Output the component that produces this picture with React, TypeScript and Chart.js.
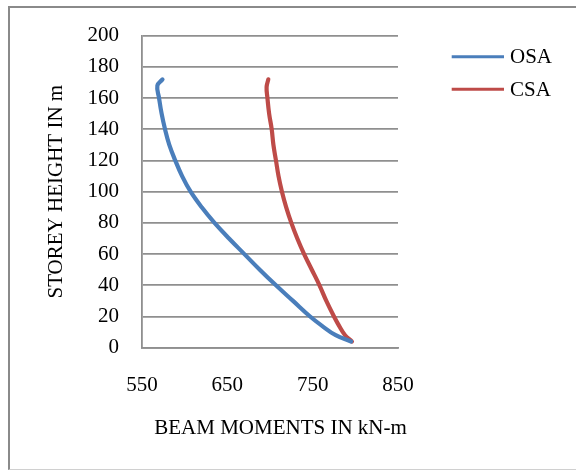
import React, { useEffect, useRef } from "react";
import { Chart, registerables } from "chart.js";

Chart.register(...registerables);

// ---- data ----
const seriesNames = ["OSA", "CSA"];
const seriesColors = ["#4A7EBB", "#BE4B48"];

const osaHeights = [4, 8, 14, 20, 30, 40, 50, 60, 70, 80, 90, 100, 110, 120, 130, 140, 150, 160, 168, 172];
const osaMoments = [795, 777, 761, 747, 727, 707, 688, 670, 652, 635, 620, 607, 597, 589, 582, 577, 573, 570, 568, 574];

const csaHeights = [4, 8, 14, 20, 30, 40, 50, 60, 70, 80, 90, 100, 110, 120, 130, 140, 150, 160, 167, 172];
const csaMoments = [796, 788, 781, 775, 766, 758, 749, 740, 732, 725, 719, 714, 710, 707, 704, 702, 699, 697, 696, 698];

const xTickValues = [550, 650, 750, 850];
const yTickValues = [0, 20, 40, 60, 80, 100, 120, 140, 160, 180, 200];

const xTitle = "BEAM MOMENTS IN kN-m";
const yTitle = "STOREY HEIGHT IN m";

const FONT = "'Liberation Serif', 'Times New Roman', serif";
const GRID = "#8f8f8f";

const extrasPlugin = {
  id: "extras",
  afterDraw(chart: any) {
    const { ctx, chartArea } = chart;
    ctx.save();
    ctx.font = `21px ${FONT}`;
    ctx.fillStyle = "#000";
    ctx.textBaseline = "middle";
    // legend
    chart.data.datasets.forEach((ds: any, i: number) => {
      const y = chartArea.top + 21 + i * 32.6;
      const x0 = chartArea.right + 53.7;
      const x1 = chartArea.right + 106;
      ctx.strokeStyle = ds.borderColor;
      ctx.lineWidth = 3;
      ctx.lineCap = "butt";
      ctx.beginPath();
      ctx.moveTo(x0, y);
      ctx.lineTo(x1, y);
      ctx.stroke();
      ctx.textAlign = "left";
      ctx.fillText(ds.label, chartArea.right + 112, y + 1);
    });
    // x axis title
    ctx.textAlign = "center";
    ctx.fillText(xTitle, chartArea.left + 138.5, chartArea.bottom + 80.5);
    ctx.restore();
  },
};

export default function App() {
  const ref = useRef<HTMLCanvasElement | null>(null);

  useEffect(() => {
    if (!ref.current) return;
    const datasets = [
      { label: seriesNames[0], xs: osaMoments, ys: osaHeights },
      { label: seriesNames[1], xs: csaMoments, ys: csaHeights },
    ].map((s, i) => ({
      label: s.label,
      data: s.xs.map((x, k) => ({ x, y: s.ys[k] })),
      borderColor: seriesColors[i],
      backgroundColor: seriesColors[i],
      borderWidth: 4.2,
      showLine: true,
      pointRadius: 0,
      pointHoverRadius: 0,
      tension: 0.4,
      borderCapStyle: "round" as const,
      borderJoinStyle: "round" as const,
      fill: false,
    }));

    const chart = new Chart(ref.current, {
      type: "scatter",
      data: { datasets },
      options: {
        animation: false,
        responsive: false,
        devicePixelRatio: 1,
        layout: { padding: { left: 0, top: 35.7, right: 178, bottom: 0 } },
        plugins: {
          legend: { display: false },
          tooltip: { enabled: false },
        },
        scales: {
          x: {
            type: "linear",
            min: xTickValues[0],
            max: xTickValues[xTickValues.length - 1],
            afterBuildTicks: (scale: any) => {
              scale.ticks = xTickValues.map((v) => ({ value: v }));
            },
            afterFit: (scale: any) => {
              scale.height = 472 - 347.7;
            },
            grid: { display: false, drawTicks: false },
            border: { display: true, color: GRID, width: 1.8 },
            ticks: {
              padding: 24.7,
              color: "#000",
              font: { family: FONT, size: 21 },
              maxRotation: 0,
            },
            title: { display: false },
          },
          y: {
            type: "linear",
            min: yTickValues[0],
            max: yTickValues[yTickValues.length - 1],
            afterBuildTicks: (scale: any) => {
              scale.ticks = yTickValues.map((v) => ({ value: v }));
            },
            afterFit: (scale: any) => {
              scale.width = 142;
            },
            grid: { color: GRID, lineWidth: 1.8, drawTicks: false },
            border: { display: true, color: GRID, width: 1.8 },
            ticks: {
              padding: 23,
              color: "#000",
              font: { family: FONT, size: 21 },
            },
            title: {
              display: true,
              text: yTitle,
              color: "#000",
              font: { family: FONT, size: 21 },
              padding: { top: 43.4, bottom: 0 },
            },
          },
        },
      },
      plugins: [extrasPlugin],
    });
    return () => chart.destroy();
  }, []);

  return (
    <div style={{ position: "absolute", left: 0, top: 0, width: 576, height: 472, background: "#fff", overflow: "hidden" }}>
      <div
        style={{
          position: "absolute",
          left: 8,
          top: 6,
          width: 620,
          height: 464,
          borderLeft: "2px solid #8a8a8a",
          borderTop: "2px solid #8a8a8a",
          borderBottom: "1px solid #d0d0d0",
          boxSizing: "border-box",
        }}
      />
      <canvas ref={ref} width={576} height={472} style={{ position: "absolute", left: 0, top: 0, width: 576, height: 472 }} />
    </div>
  );
}
